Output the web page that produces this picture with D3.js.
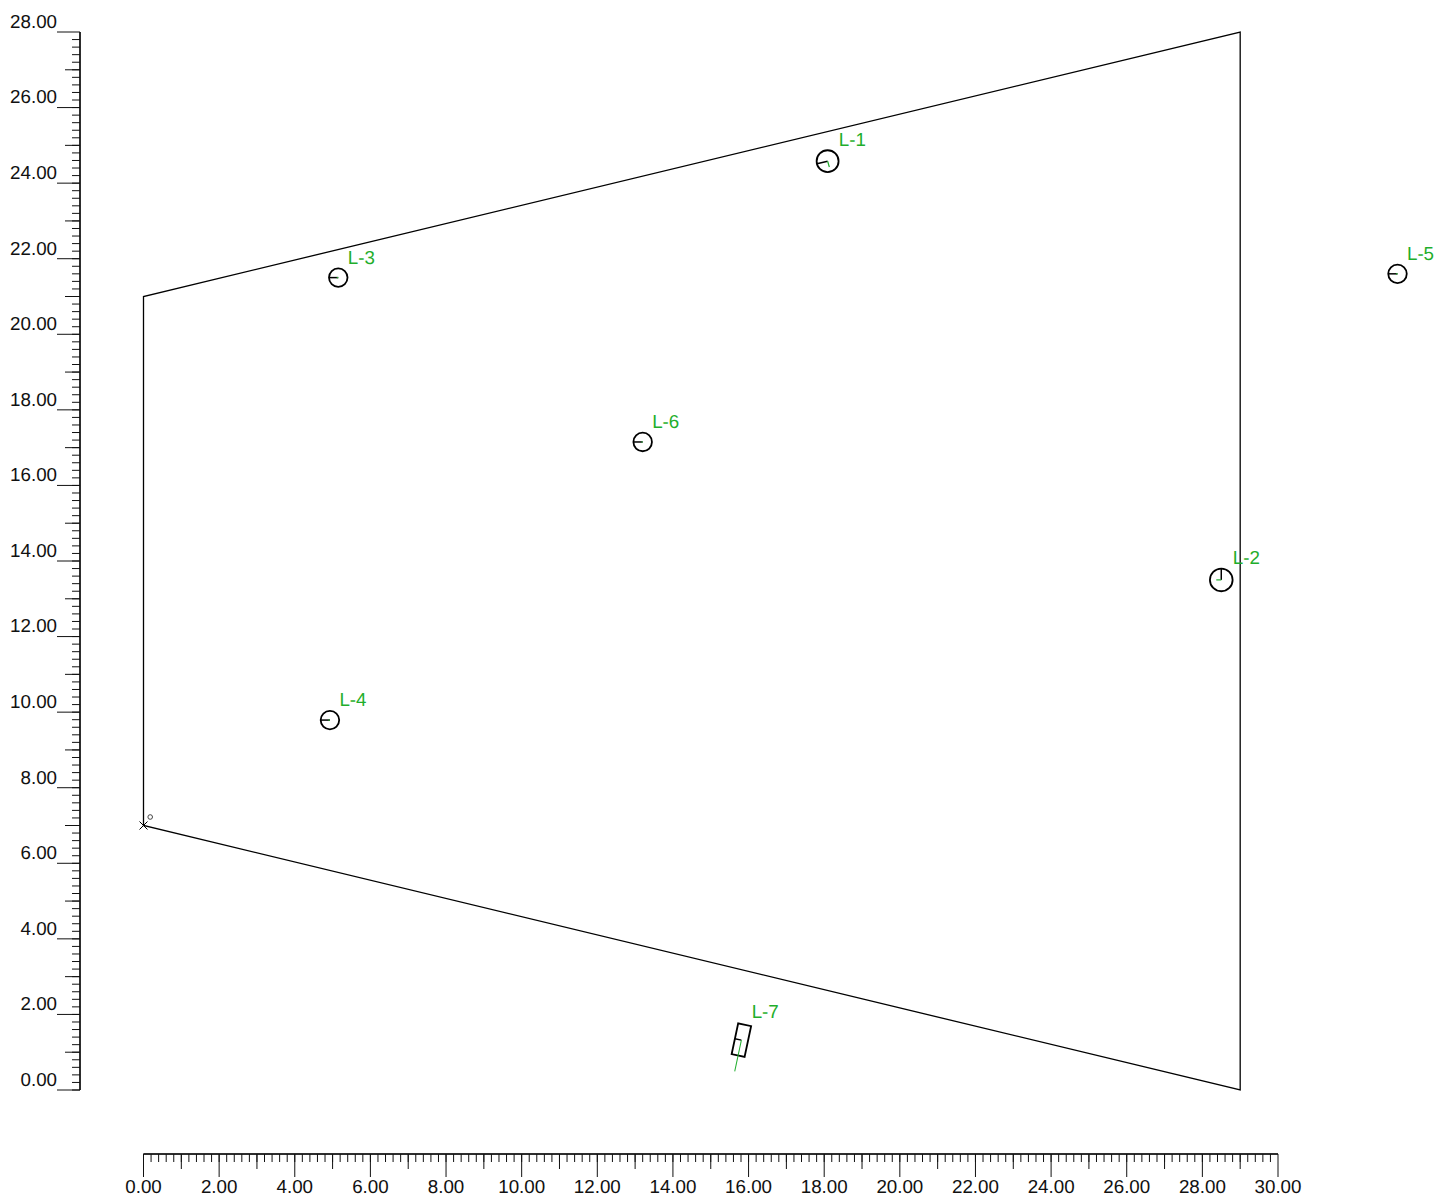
<!DOCTYPE html>
<html><head><meta charset="utf-8">
<script src="https://cdn.jsdelivr.net/npm/d3@7/dist/d3.min.js"></script>
<style>html,body{margin:0;padding:0;background:#fff}svg{display:block}
text{font-family:"Liberation Sans",Arial,sans-serif;font-size:18.75px;text-rendering:geometricPrecision}</style>
</head><body><svg id="c" width="1438" height="1199"></svg>
<script>
const xDomain = [0, 30];
const yDomain = [0, 28];
const xMajor = d3.range(0, 31, 2);
const xMid = d3.range(1, 30, 2);
const xMinor = d3.range(0, 150).map(i => i / 5);
const yMajor = d3.range(0, 29, 2);
const yMid = d3.range(1, 28, 2);
const yMinor = d3.range(0, 140).map(i => i / 5);
const roomX = [0, 0, 29, 29];
const roomY = [7, 21, 28, 0];
const lumNames = ["L-1", "L-2", "L-3", "L-4", "L-5", "L-6"];
const lumX = [18.09, 28.5, 5.15, 4.93, 33.16, 13.2];
const lumY = [24.58, 13.5, 21.5, 9.79, 21.6, 17.15];
const lumR = [0.29, 0.3, 0.245, 0.245, 0.245, 0.245];
const lumAim = [193, 90, 180, 180, 180, 180];
const lumGreenAngle = [-73, 180, 180, 180, 180, 180];
const lumGreenLen = [6, 5, 1.5, 1.5, 1.5, 1.5];
const rectName = "L-7";
const rectX = 15.81, rectY = 1.32, rectW = 0.35, rectH = 0.83, rectTilt = 12;

const x = d3.scaleLinear().domain(xDomain).range([143.5, 1278]);
const y = d3.scaleLinear().domain(yDomain).range([1090, 32]);
const k = x(1) - x(0);
const svg = d3.select("#c");
const GREEN = "#1fae2c";

function axisLayer(g, axis) {
  g.call(axis.offset(0));
  g.attr("font-family", null).attr("font-size", null);
  g.selectAll("line,path").attr("stroke", "#111").attr("stroke-width", 1);
}

const yG = svg.append("g").attr("transform", "translate(80,0)");
yG.append("g").call(g => axisLayer(g, d3.axisLeft(y).tickValues(yMinor).tickSize(8).tickSizeOuter(0).tickFormat("")));
yG.append("g").call(g => axisLayer(g, d3.axisLeft(y).tickValues(yMid).tickSize(15).tickSizeOuter(0).tickFormat("")));
yG.append("g").call(g => axisLayer(g, d3.axisLeft(y).tickValues(yMajor).tickSize(23).tickSizeOuter(0).tickPadding(0).tickFormat(d3.format(".2f"))));
yG.selectAll("text").attr("dy", "-4.1px").attr("fill", "#111");

const xG = svg.append("g").attr("transform", "translate(0,1154)");
xG.append("g").call(g => axisLayer(g, d3.axisBottom(x).tickValues(xMinor).tickSize(8).tickSizeOuter(0).tickFormat("")));
xG.append("g").call(g => axisLayer(g, d3.axisBottom(x).tickValues(xMid).tickSize(15).tickSizeOuter(0).tickFormat("")));
xG.append("g").call(g => axisLayer(g, d3.axisBottom(x).tickValues(xMajor).tickSize(23).tickSizeOuter(0).tickPadding(0).tickFormat(d3.format(".2f"))));
xG.selectAll("text").attr("y", 39).attr("dy", 0).attr("fill", "#111");

svg.append("path")
  .attr("d", d3.line().x((d, i) => x(roomX[i])).y((d, i) => y(roomY[i])).curve(d3.curveLinearClosed)(roomX))
  .attr("fill", "none").attr("stroke", "#000").attr("stroke-width", 1.3);

// origin marker
const ox = x(roomX[0]), oy = y(roomY[0]);
svg.append("path").attr("d", `M${ox-4},${oy-4}L${ox+4},${oy+4}M${ox-4},${oy+4}L${ox+4},${oy-4}`).attr("stroke", "#000").attr("fill", "none");
svg.append("circle").attr("cx", ox + 6.7).attr("cy", oy - 8.5).attr("r", 2.3).attr("fill", "none").attr("stroke", "#444").attr("stroke-width", 1);

// luminaires
lumNames.forEach((n, i) => {
  const cx = x(lumX[i]), cy = y(lumY[i]), r = lumR[i] * k, a = lumAim[i] * Math.PI / 180;
  const g = svg.append("g");
  g.append("circle").attr("cx", cx).attr("cy", cy).attr("r", r).attr("fill", "none").attr("stroke", "#000").attr("stroke-width", 1.8);
  g.append("line").attr("x1", cx).attr("y1", cy).attr("x2", cx + r * Math.cos(a)).attr("y2", cy - r * Math.sin(a)).attr("stroke", "#000").attr("stroke-width", 1.5);
  const ga = lumGreenAngle[i] * Math.PI / 180, gl = lumGreenLen[i];
  g.append("line").attr("x1", cx).attr("y1", cy).attr("x2", cx + gl * Math.cos(ga)).attr("y2", cy - gl * Math.sin(ga)).attr("stroke", GREEN).attr("stroke-width", 1.2);
  g.append("text").attr("x", cx + r + 0.2).attr("y", cy - r - 4.7).attr("fill", GREEN).text(n);
});

// rectangular luminaire
const rx = x(rectX), ry = y(rectY), rw = rectW * k, rh = rectH * k;
const rg = svg.append("g").attr("transform", `translate(${rx},${ry}) rotate(${rectTilt})`);
rg.append("rect").attr("x", -rw / 2).attr("y", -rh / 2).attr("width", rw).attr("height", rh).attr("fill", "none").attr("stroke", "#000").attr("stroke-width", 1.8);
rg.append("line").attr("x1", -rw / 2).attr("y1", 0).attr("x2", 0).attr("y2", 0).attr("stroke", "#000").attr("stroke-width", 1.3);
rg.append("line").attr("x1", 0).attr("y1", 0).attr("x2", 0).attr("y2", 32).attr("stroke", GREEN).attr("stroke-width", 1);
svg.append("text").attr("x", rx + 10.3).attr("y", ry - 22).attr("fill", GREEN).text(rectName);
</script></body></html>
